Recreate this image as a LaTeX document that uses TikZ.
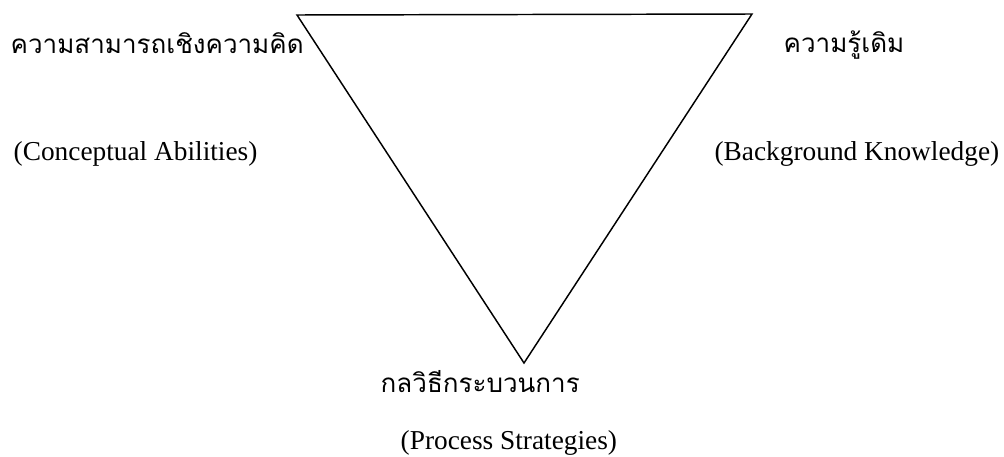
\documentclass[tikz,border=0pt]{standalone}
\usepackage{fontspec}
\setmainfont{Liberation Serif}
\newfontfamily\thaifont[Script=Thai]{Loma}
\begin{document}
\begin{tikzpicture}[x=0.75pt, y=-0.75pt, line width=1.1pt,
    thaitext/.style = {inner sep=0pt, anchor=base west, font=\thaifont\fontsize{19.5}{24}\selectfont},
    engtext/.style = {inner sep=0pt, anchor=base west, font=\fontsize{20.5}{24}\selectfont}]
        \useasboundingbox (0,0) rectangle (1004,457);

        % Corners of the triangle
        \coordinate (topLeft) at (297,15);
        \coordinate (topRight) at (752,14);
        \coordinate (bottom) at (524,363);
        \draw (topLeft) -- (topRight) -- (bottom) -- cycle;

        % Labels at the corners
        \node[thaitext] (concept-th) at (10,53) {ความสามารถเชิงความคิด};
        \node[engtext] (concept-en) at (13,160) {(Conceptual Abilities)};
        \node[thaitext] (know-th) at (783,52) {ความรู้เดิม};
        \node[engtext, anchor=base east] (know-en) at (1000,160) {(Background Knowledge)};
        \node[thaitext] (proc-th) at (380,392) {กลวิธีกระบวนการ};
        \node[engtext] (proc-en) at (400,449) {(Process Strategies)};
      \end{tikzpicture}
\end{document}
